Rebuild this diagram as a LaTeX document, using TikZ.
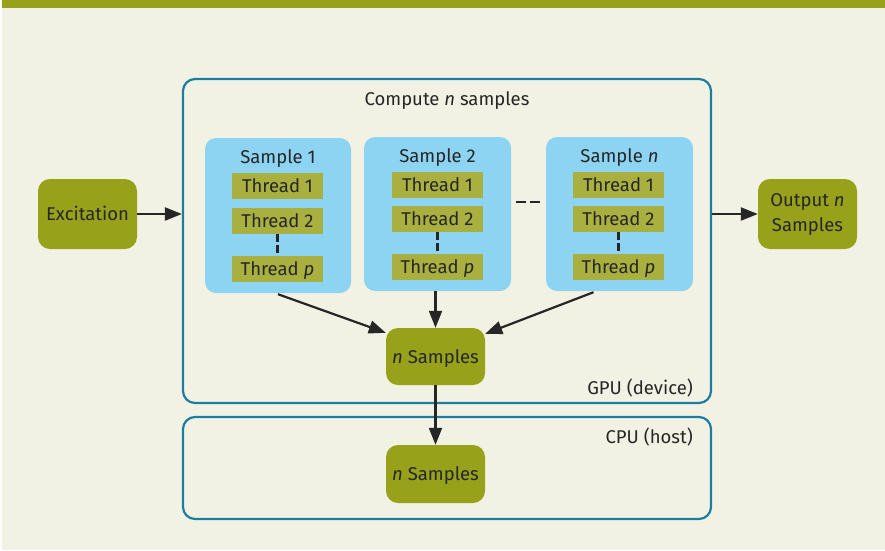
\documentclass[tikz,border=0pt]{standalone}
\usepackage{fontspec}
\setmainfont{Fira Sans}
\usetikzlibrary{arrows.meta}

\definecolor{paper}{HTML}{F2F2E4}
\definecolor{olivebar}{HTML}{97A119}
\definecolor{olivenode}{HTML}{98A11A}
\definecolor{threadfill}{HTML}{A9B03F}
\definecolor{skyfill}{HTML}{8DD3F2}
\definecolor{tealline}{HTML}{1B7EA1}
\definecolor{ink}{HTML}{262626}

\tikzset{
  txt/.style={font=\fontsize{18.5pt}{25pt}\selectfont},
  oneline/.style={text height=13pt, text depth=0pt},
  region/.style={draw=tealline, line width=2.2pt, rounded corners=12pt, inner sep=0pt},
  samplebox/.style={fill=skyfill, rounded corners=11pt, inner sep=0pt, minimum width=146pt, minimum height=155pt},
  threadbox/.style={fill=threadfill, inner sep=0pt, minimum width=91pt, minimum height=26pt,
    text=ink, txt, oneline},
  datanode/.style={fill=olivenode, rounded corners=12pt, inner sep=0pt, minimum width=99pt,
    minimum height=70pt, text=ink, align=center, txt},
  lbl/.style={text=ink, inner sep=0pt, txt, oneline},
  arr/.style={draw=ink, line width=2.2pt, -{Triangle[length=17pt,width=13pt]}},
  vdash/.style={draw=ink, line width=2.2pt, dash pattern=on 8pt off 3pt},
  hdash/.style={draw=ink, line width=2.2pt, dash pattern=on 10pt off 4pt},
}

\begin{document}
\begin{tikzpicture}[x=1pt, y=-1pt]
\useasboundingbox (0,0) rectangle (885,550);
\fill[paper] (2,0) rectangle (885,550);
\fill[olivebar] (2,0) rectangle (885,8);

% host and device regions
\node[region, minimum width=528pt, minimum height=324pt] (gpu) at (447,241) {};
\node[region, minimum width=528pt, minimum height=102pt] (cpu) at (447,468) {};
\node[lbl] (comp) at (447,99) {Compute \textit{n} samples};
\node[lbl, anchor=east] (gpulbl) at (693,387.5) {GPU (device)};
\node[lbl, anchor=east] (cpulbl) at (693,437) {CPU (host)};

% per-sample thread blocks
\node[samplebox] (s1) at (278,215.5) {};
\node[samplebox, minimum width=147pt, minimum height=154pt] (s2) at (437.5,214) {};
\node[samplebox, minimum width=147pt, minimum height=154pt] (sn) at (619.5,214) {};

\node[lbl] (s1t) at (278,157) {Sample 1};
\node[lbl] (s2t) at (437.5,156) {Sample 2};
\node[lbl] (snt) at (619.5,156) {Sample \textit{n}};

\node[threadbox] (a1) at (277.5,186) {Thread 1};
\node[threadbox] (a2) at (277.5,221) {Thread 2};
\node[threadbox] (ap) at (277.5,269) {Thread \textit{p}};

\node[threadbox] (b1) at (437.5,185) {Thread 1};
\node[threadbox] (b2) at (437.5,219) {Thread 2};
\node[threadbox] (bp) at (437.5,267) {Thread \textit{p}};

\node[threadbox] (c1) at (618.5,185) {Thread 1};
\node[threadbox] (c2) at (618.5,219) {Thread 2};
\node[threadbox] (cp) at (618.5,267) {Thread \textit{p}};

\draw[vdash] (a2.south) -- (ap.north);
\draw[vdash] (b2.south) -- (bp.north);
\draw[vdash] (c2.south) -- (cp.north);
\draw[hdash] ([xshift=5pt,yshift=12pt]s2.east) -- ([xshift=-6pt,yshift=12pt]sn.west);

% data nodes
\node[datanode, oneline] (exc) at (87.5,214) {Excitation};
\node[datanode] (out) at (807.5,214) {Output \textit{n}\\Samples};
\node[datanode, oneline, minimum height=57pt] (nsg) at (435.5,356.5) {\textit{n} Samples};
\node[datanode, oneline, minimum height=58pt] (nsc) at (435.5,474) {\textit{n} Samples};

% connectors
\draw[arr] (exc.east) -- (exc.east -| gpu.west);
\draw[arr] (out.west -| gpu.east) -- (out.west);
\draw[arr] ([yshift=-1pt]s1.south) -- ([yshift=-5pt]nsg.north west);
\draw[arr] (nsg.north |- s2.south) -- (nsg.north);
\draw[arr] ([xshift=-26pt,yshift=-1pt]sn.south) -- ([yshift=-6pt]nsg.north east);
\draw[arr] (nsg.south) -- (nsc.north);
\end{tikzpicture}
\end{document}
